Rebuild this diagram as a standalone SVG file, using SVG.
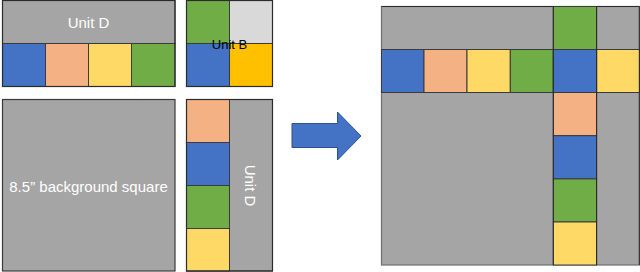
<svg xmlns="http://www.w3.org/2000/svg" width="640" height="272" viewBox="0 0 640 272">
<style>
.g{fill:#a5a5a5}
.lg{fill:#d9d9d9}
.b{fill:#4472c4}
.o{fill:#f4b183}
.y{fill:#ffd966}
.gr{fill:#70ad47}
.au{fill:#ffc000}
.c{stroke:#3a3a3a;stroke-width:1}
.edge{fill:none;stroke:#2b2b2b;stroke-width:1.2}
.wt{font-family:"Liberation Sans",Arial,sans-serif;font-size:15px;fill:#ffffff;text-anchor:middle;dominant-baseline:central}
.bt{font-family:"Liberation Sans",Arial,sans-serif;font-size:13px;fill:#000000;text-anchor:middle;dominant-baseline:central}
</style>
<rect width="640" height="272" fill="#ffffff"/>

<g id="unit-d-horizontal">
  <rect class="g c" x="2.5" y="0.5" width="172.5" height="43"/>
  <rect class="b c" x="2.5" y="43.5" width="43" height="43"/>
  <rect class="o c" x="45.5" y="43.5" width="43" height="43"/>
  <rect class="y c" x="88.5" y="43.5" width="43" height="43"/>
  <rect class="gr c" x="131.5" y="43.5" width="43.5" height="43"/>
  <rect class="edge" x="2.5" y="0.5" width="172.5" height="86"/>
  <text class="wt" x="88.5" y="22">Unit D</text>
</g>

<g id="unit-b">
  <rect class="gr c" x="186.5" y="0.5" width="43" height="43"/>
  <rect class="lg c" x="229.5" y="0.5" width="43" height="43"/>
  <rect class="b c" x="186.5" y="43.5" width="43" height="43"/>
  <rect class="au c" x="229.5" y="43.5" width="43" height="43"/>
  <rect class="edge" x="186.5" y="0.5" width="86" height="86"/>
  <text class="bt" x="229.5" y="44">Unit B</text>
</g>

<g id="background-square">
  <rect class="g" x="2.5" y="99.5" width="172.5" height="171.5" stroke="#3a3a3a" stroke-width="1.2"/>
  <text class="wt" x="88.5" y="186">8.5” background square</text>
</g>

<g id="unit-d-vertical">
  <rect class="g c" x="186.5" y="99.5" width="86" height="171.5"/>
  <rect class="o c" x="186.5" y="99.5" width="43" height="43"/>
  <rect class="b c" x="186.5" y="142.5" width="43" height="43"/>
  <rect class="gr c" x="186.5" y="185.5" width="43" height="43"/>
  <rect class="y c" x="186.5" y="228.5" width="43" height="42.5"/>
  <rect class="edge" x="186.5" y="99.5" width="86" height="171.5"/>
  <text class="wt" x="250.5" y="185.5" transform="rotate(90 250.5 185.5)">Unit D</text>
</g>

<g id="connectors">
  <polygon points="292,123.5 337.5,123.5 337.5,112 361,136 337.5,160 337.5,147.5 292,147.5" fill="#4472c4" stroke="#2f528f" stroke-width="1"/>
</g>

<g id="assembled">
  <rect class="g" x="381.5" y="6.5" width="258" height="258.5" stroke="#6f6f6f" stroke-width="1.2"/>
  <line x1="381.5" y1="6.5" x2="639.5" y2="6.5" stroke="#2b2b2b" stroke-width="1.2"/>
  <rect class="b c" x="381.5" y="49.5" width="42.5" height="43"/>
  <rect class="o c" x="424" y="49.5" width="43" height="43"/>
  <rect class="y c" x="467" y="49.5" width="43.3" height="43"/>
  <rect class="gr c" x="510.3" y="49.5" width="43" height="43"/>
  <rect class="y c" x="596.6" y="49.5" width="43" height="43"/>
  <rect class="gr c" x="553.3" y="6.5" width="43.3" height="43"/>
  <rect class="b c" x="553.3" y="49.5" width="43.3" height="43" stroke="#1f3864"/>
  <rect class="o c" x="553.3" y="92.5" width="43.3" height="43.2"/>
  <rect class="b c" x="553.3" y="135.7" width="43.3" height="43.2"/>
  <rect class="gr c" x="553.3" y="178.9" width="43.3" height="43.1"/>
  <rect class="y c" x="553.3" y="222" width="43.3" height="43"/>
  <line x1="553.3" y1="6.5" x2="553.3" y2="265" stroke="#2b2b2b" stroke-width="1"/>
  <line x1="596.6" y1="6.5" x2="596.6" y2="265" stroke="#2b2b2b" stroke-width="1"/>
  <line x1="639.3" y1="6.5" x2="639.3" y2="265" stroke="#2b2b2b" stroke-width="1"/>
</g>
</svg>
